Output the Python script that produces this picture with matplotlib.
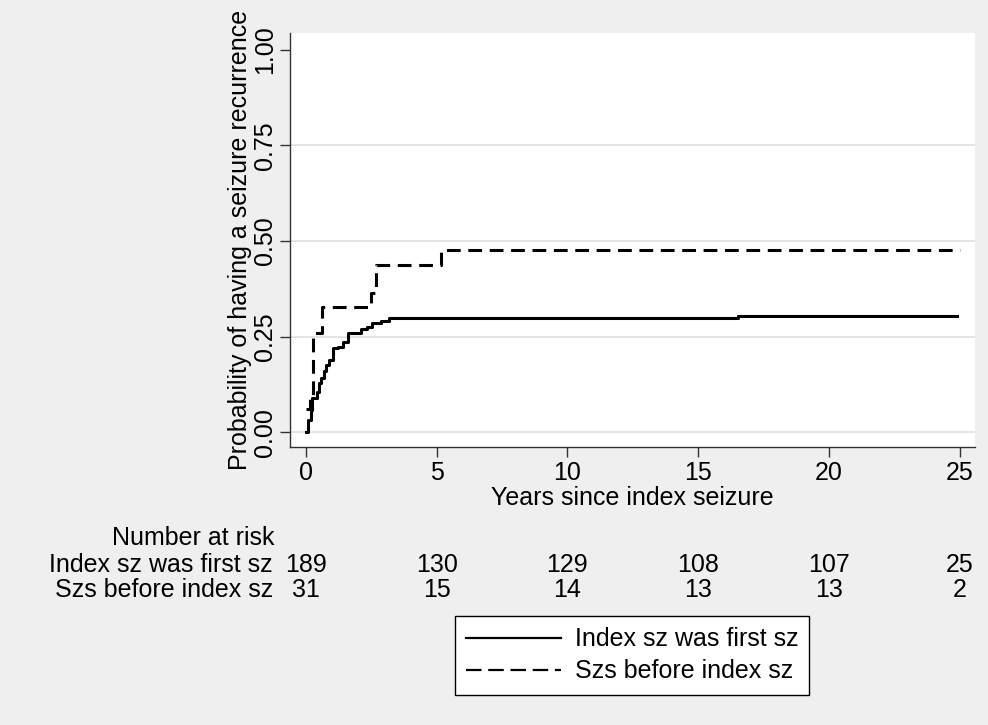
import matplotlib
matplotlib.use('Agg')
import matplotlib.pyplot as plt
import matplotlib.transforms as mtransforms
from matplotlib.lines import Line2D

# Kaplan-Meier failure estimates
first_t = [0, 0.06, 0.19, 0.23, 0.41, 0.49, 0.57, 0.68, 0.77, 0.89, 1.02, 1.21,
           1.40, 1.59, 1.91, 2.10, 2.35, 2.54, 2.86, 3.19, 16.53, 24.9]
first_v = [0, 0.032, 0.058, 0.089, 0.105, 0.128, 0.141, 0.160, 0.176, 0.189, 0.220, 0.224,
           0.237, 0.259, 0.260, 0.269, 0.276, 0.285, 0.292, 0.298, 0.303, 0.303]

before_t = [0, 0.15, 0.27, 0.61, 2.49, 2.68, 5.16, 25]
before_v = [0.06, 0.09, 0.26, 0.327, 0.364, 0.437, 0.477, 0.477]

# number at risk table
risk_times = [0, 5, 10, 15, 20, 25]
risk_first = [189, 130, 129, 108, 107, 25]
risk_before = [31, 15, 14, 13, 13, 2]

labels = ['Index sz was first sz', 'Szs before index sz']
yticks = [0, 0.25, 0.5, 0.75, 1.0]
ytick_labels = ['0.00', '0.25', '0.50', '0.75', '1.00']

plt.rcParams['font.family'] = ['Liberation Sans', 'DejaVu Sans']
plt.rcParams['font.size'] = 18

W, H = 988, 725
fig = plt.figure(figsize=(W / 100, H / 100), dpi=100, facecolor='#efefef')
ax = fig.add_axes([290 / W, 1 - 447 / H, 685 / W, 414 / H])

dash = (0, (4.5, 2.5))
ax.step(first_t, first_v, where='post', color='black', lw=2.2)
ax.step(before_t, before_v, where='post', color='black', lw=2.2, ls=dash)

for y in yticks[:-1]:
    ax.axhline(y, color='#e4e4e4', lw=1.4, zorder=0)

ax.set_xlim(-0.61, 25.59)
ax.set_ylim(-0.0384, 1.044)
ax.set_xticks(risk_times)
ax.set_yticks(yticks)
ax.set_yticklabels(ytick_labels)
ax.spines['top'].set_visible(False)
ax.spines['right'].set_visible(False)
for s in ['left', 'bottom']:
    ax.spines[s].set_color('#333333')
    ax.spines[s].set_linewidth(1.0)
ax.tick_params(length=7.2, width=1.0, color='#333333', pad=3.2)
ax.tick_params(axis='y', labelrotation=90, pad=2)
for lab in ax.get_yticklabels():
    lab.set_va('center')

ax.set_xlabel('Years since index seizure', labelpad=0.5)
ax.set_ylabel('Probability of having a seizure recurrence', labelpad=1)

# risk table below the axis
trans = mtransforms.blended_transform_factory(ax.transData, fig.transFigure)
fig.text(274 / W, 1 - 545 / H, 'Number at risk', ha='right', va='baseline')
rows = [(labels[0], risk_first, 572), (labels[1], risk_before, 597)]
for name, vals, ypix in rows:
    fig.text(273 / W, 1 - ypix / H, name, ha='right', va='baseline')
    for t, n in zip(risk_times, vals):
        ax.text(t, 1 - ypix / H, str(n), transform=trans, ha='center', va='baseline')

handles = [Line2D([], [], color='black', lw=1.6),
           Line2D([], [], color='black', lw=1.6, ls=(0, (7, 3)))]
leg = fig.legend(handles, labels, loc='center', bbox_to_anchor=(632 / W, 1 - 655.5 / H),
                 frameon=True, fancybox=False, edgecolor='black', framealpha=1,
                 handlelength=3.8, handletextpad=0.55, borderpad=0.45, labelspacing=0.32)
leg.get_frame().set_linewidth(1.0)

fig.savefig('out.png', dpi=100, facecolor=fig.get_facecolor())
